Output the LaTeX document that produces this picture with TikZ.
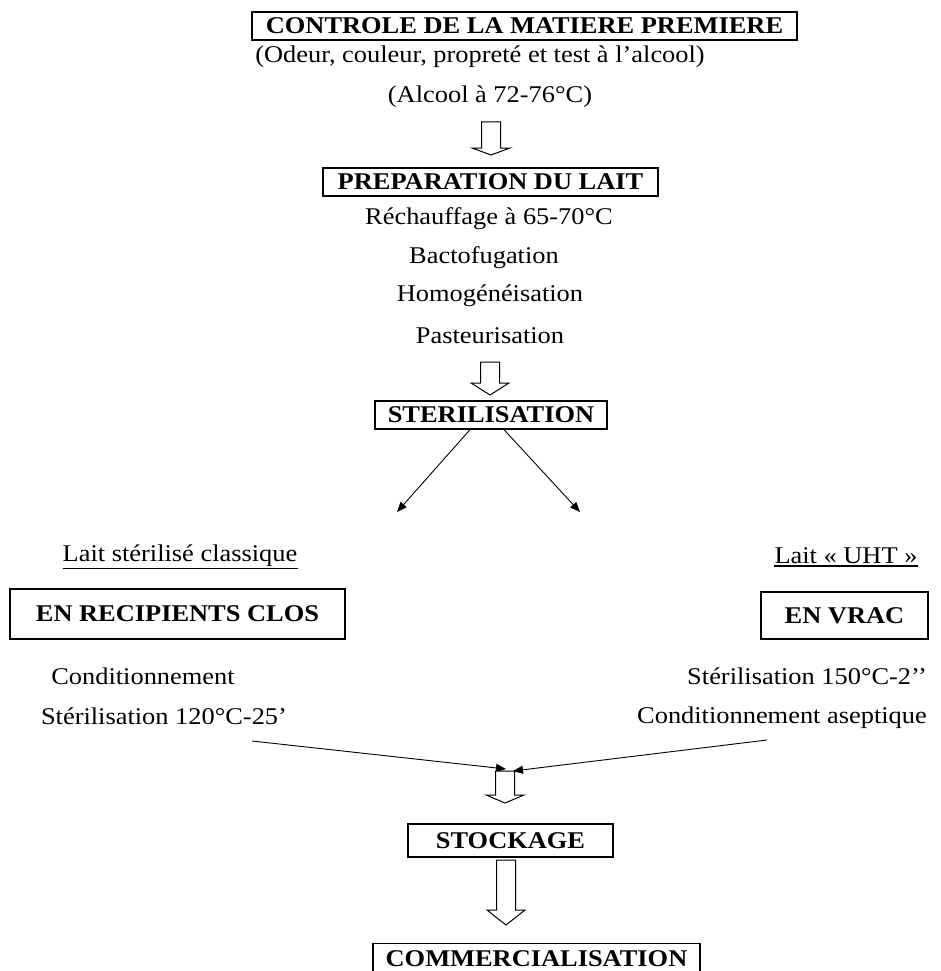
\documentclass[tikz,border=0pt]{standalone}
\usepackage{fontspec}
\setmainfont{Liberation Serif}[FakeStretch=1.1]
\usetikzlibrary{calc, positioning}
\usetikzlibrary{arrows.meta}

\newcommand{\taille}{\fontsize{24}{28}\selectfont}
\tikzset{
  etape/.style={draw, line width=1.4pt, inner sep=0pt, minimum height=28pt, font=\taille\bfseries},
  texte/.style={inner sep=0pt, font=\taille},
  souligne/.style={line width=1.5pt},
  fleche fine/.style={line width=0.9pt, -{Triangle[length=10pt, width=8pt]}},
  fleche blanche/.style={draw, line width=1pt, fill=white, line join=miter},
}
% grosse fleche blanche : #1 haut, #2 longueur du corps, #3 longueur de la pointe
\newcommand{\grossefleche}[3]{%
  \draw[fleche blanche] ($(#1)+(-9.5,0)$) -- ++(0,#2) -- ++(-9.5,0)
    -- ($(#1)+(0,#2+#3)$) -- ($(#1)+(19,#2)$) -- ++(-9.5,0)
    -- ($(#1)+(9.5,0)$) -- cycle;}

\begin{document}
\begin{tikzpicture}[x=1pt, y=-1pt]
\useasboundingbox (0,0) rectangle (941,971);
\clip (0,0) rectangle (941,971);

% matiere premiere
\node[etape, minimum width=545pt] (controle) at (524.5,26) {CONTROLE DE LA MATIERE PREMIERE};
\node[texte] (odeur) at (480,57) {(Odeur, couleur, propreté et test à l’alcool)};
\node[texte] (alcool) at (490,97) {(Alcool à 72-76°C)};
\coordinate (f1) at (491,122);
\grossefleche{f1}{26}{7}

% preparation
\node[etape, minimum width=335pt] (prep) at (490.5,182) {PREPARATION DU LAIT};
\node[texte] (rechauf) at (489,219) {Réchauffage à 65-70°C};
\node[texte] (bacto) at (484,258) {Bactofugation};
\node[texte] (homog) at (490,296) {Homogénéisation};
\node[texte] (pasteur) at (490,336) {Pasteurisation};
\coordinate (f2) at (490,362);
\grossefleche{f2}{21}{12}

% sterilisation
\node[etape, minimum width=232pt] (steril) at (491,415) {STERILISATION};
\coordinate (gauche) at (397,512);
\coordinate (droite) at (580,512);
\draw[fleche fine] ([xshift=-21pt]steril.south) -- (gauche);
\draw[fleche fine] ([xshift=13pt]steril.south) -- (droite);

% deux filieres
\node[texte] (classique) at (180,556) {Lait stérilisé classique};
\node[texte] (uht) at (846,556) {Lait « UHT »};
\draw[souligne] ([yshift=-1.5pt]classique.south west) -- ([yshift=-1.5pt]classique.south east);
\draw[souligne] ([yshift=-1.5pt]uht.south west) -- ([yshift=-1.5pt]uht.south east);
\node[etape, minimum width=335pt, minimum height=50pt] (clos) at (177.5,614) {EN RECIPIENTS CLOS};
\node[etape, minimum width=167pt, minimum height=47pt] (vrac) at (844.5,615.5) {EN VRAC};
\node[texte] (condit) at (143,676) {Conditionnement};
\node[texte] (ster120) at (164,716) {Stérilisation 120°C-25’};
\node[texte, anchor=east] (ster150) at (927,676) {Stérilisation 150°C-2’’};
\node[texte, anchor=east] (aseptique) at (927,718) {Conditionnement aseptique};

% regroupement
\coordinate (depG) at (252,741);
\coordinate (depD) at (767,740);
\coordinate (arrG) at (506,769);
\coordinate (arrD) at (513,771);
\draw[fleche fine] (depG) -- (arrG);
\draw[fleche fine] (depD) -- (arrD);
\coordinate (f3) at (505,771);
\grossefleche{f3}{24}{8}

% stockage
\node[etape, minimum width=205pt, minimum height=33pt] (stock) at (510.5,840.5) {STOCKAGE};
\coordinate (f4) at (506,860);
\grossefleche{f4}{50}{15}
\node[etape, minimum width=327pt, minimum height=0pt, inner ysep=7pt, anchor=north] (commerc) at (536.5,943) {COMMERCIALISATION};
\end{tikzpicture}
\end{document}
